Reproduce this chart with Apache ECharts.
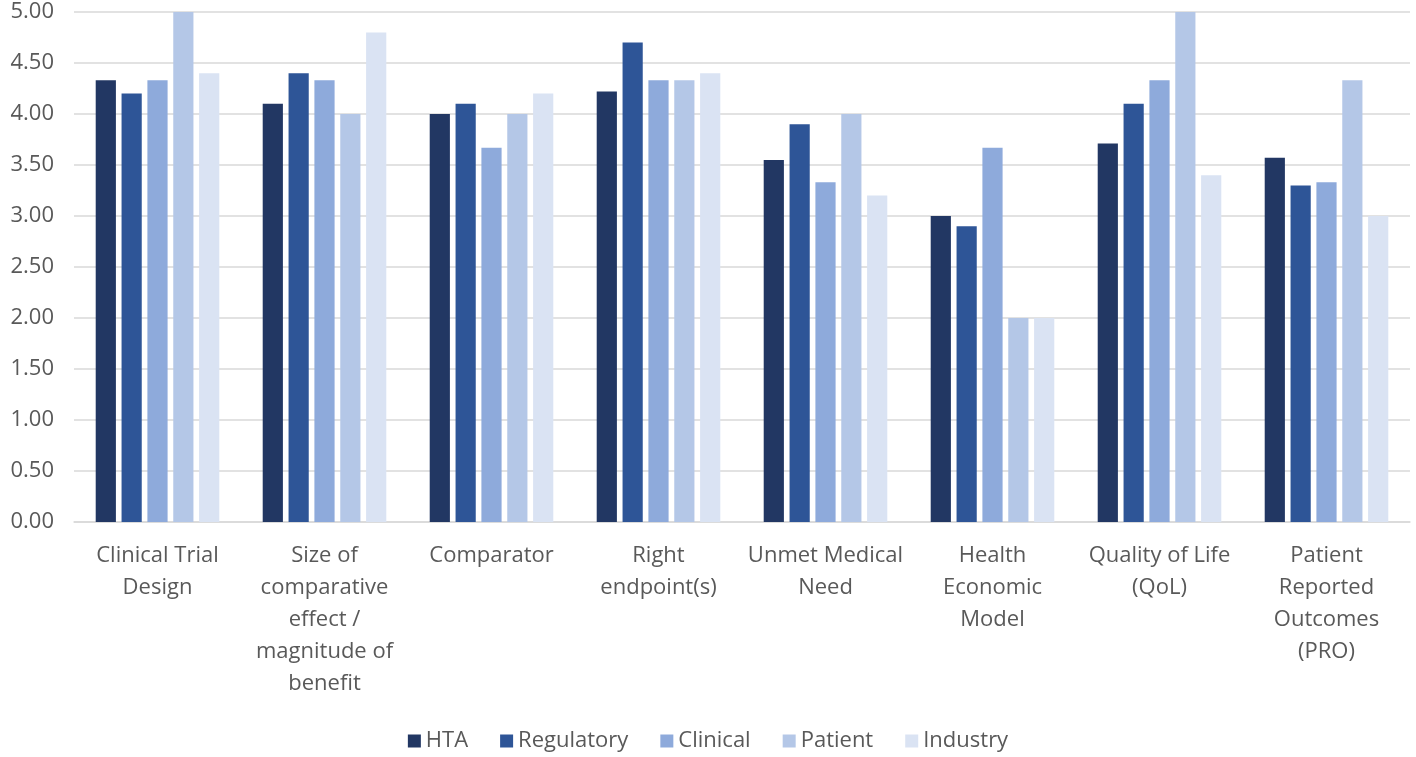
<!DOCTYPE html>
<html>
<head>
    <meta charset="utf-8">
    <title>Stakeholder ratings</title>
    <script src="https://cdn.jsdelivr.net/npm/echarts@6/dist/echarts.min.js"></script>
    <style>
        html, body { margin: 0; padding: 0; background: #fff; }
        #chartmain { width: 1416px; height: 757px; }
    </style>
</head>
<body>
    <div id="chartmain"></div>
<script type="text/javascript">
    // categories (x axis)
    var categories = [
        'Clinical Trial\nDesign',
        'Size of\ncomparative\neffect /\nmagnitude of\nbenefit',
        'Comparator',
        'Right\nendpoint(s)',
        'Unmet Medical\nNeed',
        'Health\nEconomic\nModel',
        'Quality of Life\n(QoL)',
        'Patient\nReported\nOutcomes\n(PRO)'
    ];

    // series values
    var hta        = [4.33, 4.10, 4.00, 4.22, 3.55, 3.00, 3.71, 3.57];
    var regulatory = [4.20, 4.40, 4.10, 4.70, 3.90, 2.90, 4.10, 3.30];
    var clinical   = [4.33, 4.33, 3.67, 4.33, 3.33, 3.67, 4.33, 3.33];
    var patient    = [5.00, 4.00, 4.00, 4.33, 4.00, 2.00, 5.00, 4.33];
    var industry   = [4.40, 4.80, 4.20, 4.40, 3.20, 2.00, 3.40, 3.00];

    var seriesNames = ['HTA', 'Regulatory', 'Clinical', 'Patient', 'Industry'];
    var seriesData = [hta, regulatory, clinical, patient, industry];
    var colors = ['#223763', '#2e5597', '#8eaadb', '#b4c7e7', '#dae3f3'];

    var font = '"Open Sans", sans-serif';

    var myChart = echarts.init(document.getElementById('chartmain'));
    myChart.setOption({
        animation: false,
        color: colors,
        grid: { left: 74, right: 6, top: 12, bottom: 235, containLabel: false },
        legend: {
            bottom: 0,
            left: 'center',
            itemWidth: 13,
            itemHeight: 13,
            itemGap: 32,
            icon: 'rect',
            textStyle: { fontSize: 22, color: '#595959', fontFamily: font },
            data: seriesNames
        },
        xAxis: {
            type: 'category',
            data: categories,
            axisLine: { lineStyle: { color: '#d9d9d9', width: 1.5 } },
            axisTick: { show: false },
            axisLabel: {
                interval: 0,
                margin: 18,
                fontSize: 22,
                lineHeight: 32,
                color: '#595959',
                fontFamily: font
            }
        },
        yAxis: {
            type: 'value',
            min: 0,
            max: 5,
            interval: 0.5,
            axisLine: { show: false },
            axisTick: { show: false },
            splitLine: { lineStyle: { color: '#d9d9d9', width: 1.5 } },
            axisLabel: {
                margin: 20,
                fontSize: 22,
                color: '#595959',
                fontFamily: font,
                formatter: function (v) { return v.toFixed(2); }
            }
        },
        series: seriesNames.map(function (name, i) {
            return {
                name: name,
                type: 'bar',
                data: seriesData[i],
                barGap: '28%',
                barCategoryGap: '26%'
            };
        })
    });
</script>
</body>
</html>
